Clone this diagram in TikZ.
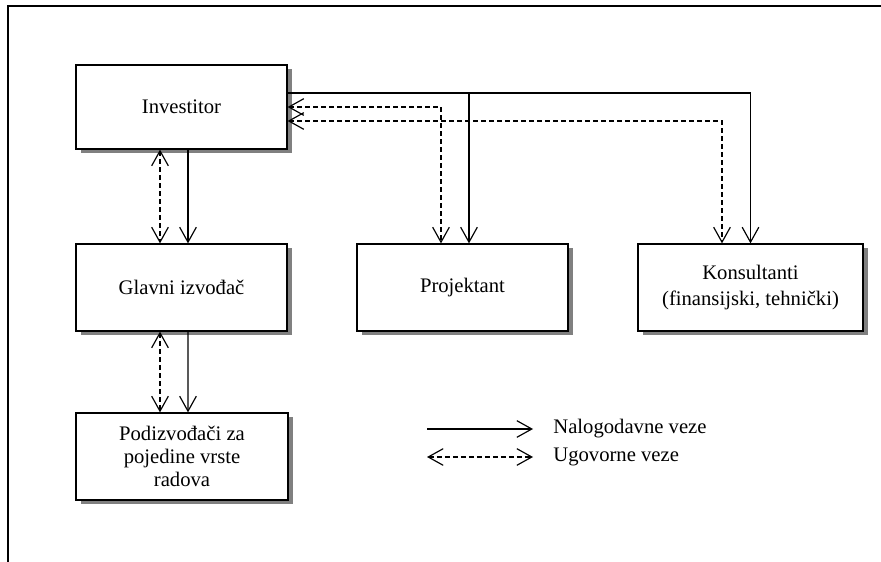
\documentclass[tikz,border=0pt]{standalone}
\usepackage{fontspec}
\setmainfont{Liberation Serif}
\usetikzlibrary{arrows.meta,shadows}

\begin{document}
\begin{tikzpicture}[x=0.6pt,y=-0.6pt]
	\tikzstyle{box}=[draw=black,line width=0.75pt,fill=white,inner sep=2pt,align=center,font=\fontsize{12.4}{14}\selectfont,drop shadow={shadow xshift=2.7pt,shadow yshift=-2.7pt,fill=black!50,opacity=1}]
	\tikzstyle{legtext}=[inner sep=0pt,anchor=west,font=\fontsize{12.4}{14}\selectfont]
	\tikzstyle{nalog}=[line width=0.7pt,-{Straight Barb[length=9pt,width=10pt]}]
	\tikzstyle{ugov}=[line width=0.7pt,dash pattern=on 3pt off 1.8pt,{Straight Barb[length=9pt,width=10pt]}-{Straight Barb[length=9pt,width=10pt]}]
	\useasboundingbox (0,0) rectangle (881,562);
	\draw[line width=1.2pt] (8,562) -- (8,6) -- (881,6);
	\node[box,minimum width=126.6pt,minimum height=50.4pt] (inv) at (181.5,107) {Investitor};
	\node[box,minimum width=126.6pt,minimum height=52.2pt] (glav) at (181.5,287.5) {Glavni izvođač};
	\node[box,minimum width=126.6pt,minimum height=52.2pt] (proj) at (462.5,287.5) {Projektant};
	\node[box,minimum width=135pt,minimum height=52.2pt] (kon) at (750.5,287.5) {Konsultanti\\[1.5pt](finansijski, tehnički)};
	\node[box,minimum width=127.2pt,minimum height=52.2pt] (pod) at (182,456.5) {Podizvođači za\\pojedine vrste\\radova};
	\node[legtext] (nal) at (553,429) {Nalogodavne veze};
	\node[legtext] (ugo) at (553,457) {Ugovorne veze};
	% veze od investitora
	\draw[nalog] ([yshift=8.4pt]inv.east) -| (kon.north);
	\draw[nalog] ([yshift=8.4pt]inv.east) -| ([xshift=3.9pt]proj.north);
	\draw[ugov] (inv.east) -| ([xshift=-12.9pt]proj.north);
	\draw[ugov] ([yshift=-8.4pt]inv.east) -| ([xshift=-17.1pt]kon.north);
	\draw[ugov] ([xshift=-12.9pt]inv.south) -- ([xshift=-12.9pt]glav.north);
	\draw[nalog] ([xshift=3.9pt]inv.south) -- ([xshift=3.9pt]glav.north);
	% glavni izvodjac - podizvodjaci
	\draw[ugov] ([xshift=-12.9pt]glav.south) -- ([xshift=-13.2pt]pod.north);
	\draw[nalog] ([xshift=3.9pt]glav.south) -- ([xshift=3.6pt]pod.north);
	% legenda
	\draw[nalog] ([xshift=-75.6pt]nal.west) -- ([xshift=-12pt]nal.west);
	\draw[ugov] ([xshift=-75.6pt]ugo.west) -- ([xshift=-12pt]ugo.west);
\end{tikzpicture}
\end{document}
